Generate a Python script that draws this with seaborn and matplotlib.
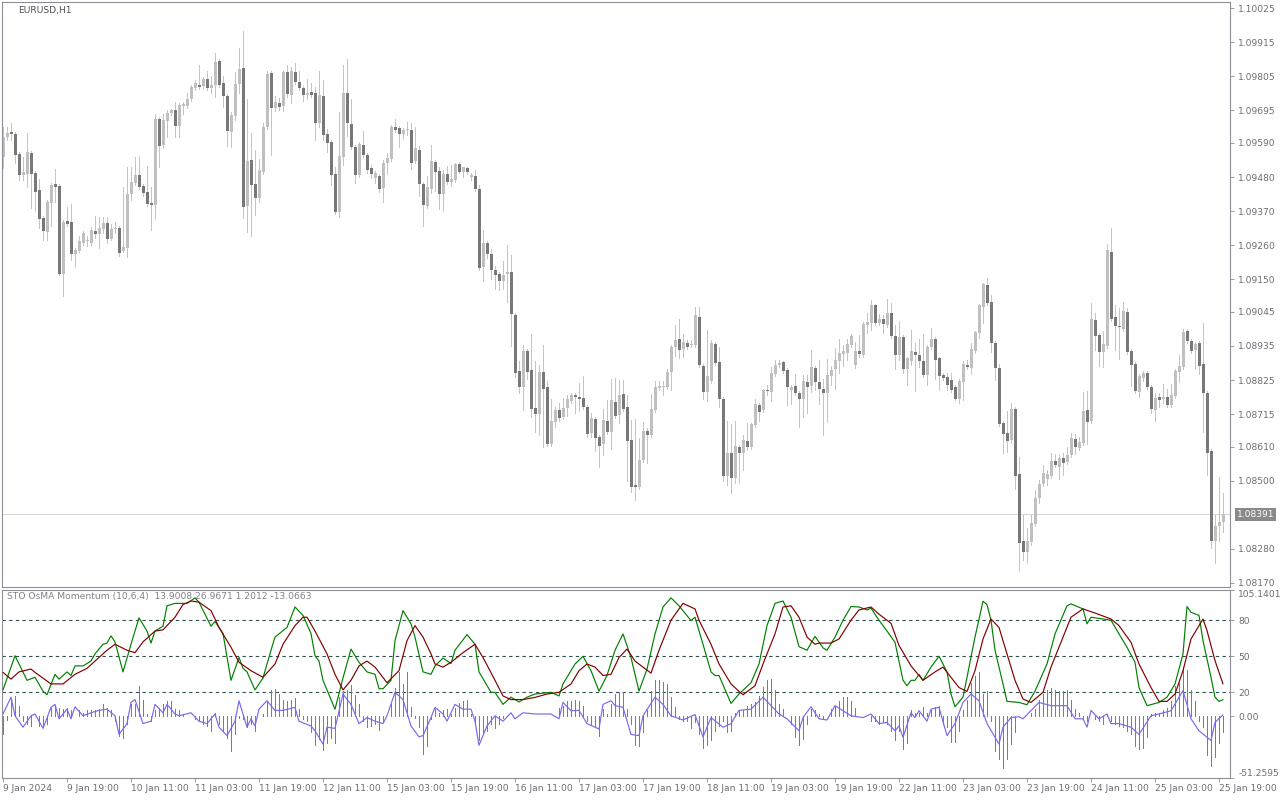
import numpy as np
import pandas as pd
import matplotlib
matplotlib.use("Agg")
import matplotlib.pyplot as plt
import seaborn as sns
from matplotlib.transforms import offset_copy

# ======================================================================
# EURUSD H1 candles, 9 Jan 2024 03:00 -> 25 Jan 2024 (one entry per bar)
# ======================================================================
open_ = [
    1.09545,1.09609,1.09625,1.09619,1.09554,1.09486,1.09490,1.09557,1.09493,1.09438,
    1.09348,1.09303,1.09396,1.09457,1.09451,1.09167,1.09338,1.09335,1.09232,1.09241,
    1.09267,1.09274,1.09267,1.09306,1.09296,1.09312,1.09332,1.09280,1.09312,1.09316,
    1.09241,1.09251,1.09425,1.09461,1.09486,1.09451,1.09432,1.09396,1.09390,1.09667,
    1.09583,1.09661,1.09686,1.09696,1.09645,1.09709,1.09709,1.09732,1.09767,1.09777,
    1.09774,1.09796,1.09767,1.09777,1.09854,1.09783,1.09741,1.09625,1.09677,1.09780,
    1.09832,1.09386,1.09535,1.09457,1.09412,1.09496,1.09641,1.09816,1.09703,1.09719,
    1.09709,1.09819,1.09745,1.09819,1.09786,1.09767,1.09745,1.09754,1.09751,1.09654,
    1.09741,1.09619,1.09593,1.09490,1.09367,1.09545,1.09751,1.09651,1.09577,1.09486,
    1.09583,1.09551,1.09509,1.09477,1.09483,1.09445,1.09525,1.09538,1.09641,1.09638,
    1.09619,1.09632,1.09632,1.09532,1.09567,1.09457,1.09386,1.09441,1.09528,1.09499,
    1.09425,1.09490,1.09464,1.09470,1.09522,1.09496,1.09509,1.09480,1.09483,1.09441,
    1.09190,1.09267,1.09232,1.09180,1.09167,1.09145,1.09167,1.09174,1.09035,1.08854,
    1.08803,1.08919,1.08857,1.08735,1.08716,1.08851,1.08803,1.08619,1.08690,1.08728,
    1.08706,1.08735,1.08757,1.08777,1.08770,1.08767,1.08738,1.08654,1.08699,1.08641,
    1.08619,1.08693,1.08657,1.08754,1.08712,1.08780,1.08738,1.08632,1.08486,1.08480,
    1.08567,1.08661,1.08648,1.08728,1.08799,1.08803,1.08803,1.08851,1.08932,1.08957,
    1.08925,1.08945,1.08938,1.08938,1.09028,1.08870,1.08786,1.08822,1.08941,1.08883,
    1.08764,1.08516,1.08590,1.08509,1.08609,1.08590,1.08628,1.08609,1.08680,1.08745,
    1.08728,1.08793,1.08786,1.08845,1.08874,1.08883,1.08857,1.08793,1.08806,1.08783,
    1.08764,1.08819,1.08806,1.08864,1.08819,1.08796,1.08783,1.08838,1.08861,1.08886,
    1.08909,1.08912,1.08938,1.08874,1.08919,1.08906,1.09003,1.09009,1.09067,1.09009,
    1.09022,1.09003,1.09041,1.08967,1.08906,1.08964,1.08861,1.08886,1.08916,1.08906,
    1.08886,1.08841,1.08932,1.08957,1.08896,1.08841,1.08835,1.08825,1.08803,1.08764,
    1.08819,1.08874,1.08864,1.08919,1.08977,1.09061,1.09132,1.09077,1.08945,1.08864,
    1.08686,1.08654,1.08632,1.08732,1.08522,1.08306,1.08270,1.08303,1.08361,1.08445,
    1.08490,1.08506,1.08516,1.08564,1.08545,1.08574,1.08561,1.08583,1.08635,1.08606,
    1.08622,1.08728,1.08693,1.09019,1.08970,1.08916,1.08935,1.09238,1.09028,1.08999,
    1.08990,1.09045,1.08919,1.08877,1.08786,1.08832,1.08848,1.08803,1.08728,1.08770,
    1.08764,1.08770,1.08745,1.08774,1.08851,1.08867,1.08983,1.08951,1.08922,1.08945,
    1.08877,1.08783,1.08596,1.08306,1.08354,1.08367]
high_ = [
    1.09641,1.09641,1.09654,1.09625,1.09561,1.09545,1.09622,1.09564,1.09499,1.09474,
    1.09354,1.09406,1.09461,1.09506,1.09457,1.09341,1.09383,1.09393,1.09251,1.09290,
    1.09306,1.09290,1.09319,1.09354,1.09351,1.09351,1.09351,1.09328,1.09335,1.09322,
    1.09448,1.09512,1.09512,1.09545,1.09548,1.09457,1.09516,1.09448,1.09683,1.09674,
    1.09683,1.09696,1.09699,1.09722,1.09719,1.09722,1.09751,1.09777,1.09793,1.09841,
    1.09803,1.09822,1.09806,1.09880,1.09861,1.09806,1.09748,1.09690,1.09819,1.09896,
    1.09951,1.09732,1.09622,1.09567,1.09538,1.09654,1.09822,1.09822,1.09741,1.09735,
    1.09825,1.09841,1.09835,1.09848,1.09822,1.09774,1.09796,1.09783,1.09770,1.09822,
    1.09793,1.09635,1.09599,1.09512,1.09690,1.09841,1.09861,1.09732,1.09583,1.09593,
    1.09628,1.09557,1.09519,1.09499,1.09490,1.09535,1.09557,1.09648,1.09667,1.09645,
    1.09638,1.09657,1.09654,1.09641,1.09580,1.09464,1.09483,1.09583,1.09535,1.09512,
    1.09503,1.09516,1.09519,1.09525,1.09528,1.09512,1.09512,1.09493,1.09503,1.09454,
    1.09309,1.09274,1.09248,1.09193,1.09174,1.09209,1.09261,1.09228,1.09041,1.08886,
    1.08938,1.08925,1.08974,1.08886,1.08874,1.08938,1.08822,1.08764,1.08738,1.08751,
    1.08767,1.08777,1.08783,1.08783,1.08816,1.08838,1.08745,1.08719,1.08706,1.08648,
    1.08732,1.08761,1.08828,1.08832,1.08825,1.08825,1.08777,1.08696,1.08699,1.08638,
    1.08690,1.08670,1.08780,1.08822,1.08822,1.08822,1.08861,1.08938,1.09003,1.09022,
    1.08974,1.08954,1.08954,1.09061,1.09061,1.08877,1.08986,1.08954,1.08948,1.08932,
    1.08770,1.08693,1.08683,1.08693,1.08616,1.08648,1.08686,1.08686,1.08764,1.08751,
    1.08796,1.08809,1.08867,1.08890,1.08890,1.08886,1.08864,1.08809,1.08845,1.08790,
    1.08841,1.08841,1.08922,1.08870,1.08890,1.08828,1.08893,1.08870,1.08928,1.08957,
    1.08938,1.08957,1.08974,1.08948,1.08970,1.09012,1.09041,1.09083,1.09070,1.09038,
    1.09035,1.09086,1.09074,1.09003,1.09016,1.08970,1.08899,1.08986,1.08945,1.08957,
    1.08974,1.08938,1.08993,1.08964,1.08899,1.08848,1.08848,1.08848,1.08809,1.08828,
    1.08886,1.08890,1.08945,1.08983,1.09070,1.09138,1.09154,1.09099,1.08951,1.08877,
    1.08693,1.08725,1.08751,1.08738,1.08577,1.08390,1.08348,1.08390,1.08470,1.08503,
    1.08551,1.08535,1.08590,1.08586,1.08583,1.08590,1.08609,1.08654,1.08651,1.08641,
    1.08786,1.08790,1.09074,1.09041,1.08977,1.08983,1.09264,1.09316,1.09067,1.09057,
    1.09077,1.09057,1.08925,1.08883,1.08845,1.08854,1.08854,1.08809,1.08783,1.08783,
    1.08812,1.08796,1.08812,1.08861,1.08906,1.08990,1.08990,1.08957,1.08948,1.08951,
    1.09009,1.08790,1.08603,1.08390,1.08512,1.08461]
low_ = [
    1.09509,1.09599,1.09599,1.09525,1.09470,1.09470,1.09448,1.09380,1.09370,1.09316,
    1.09277,1.09277,1.09322,1.09399,1.09164,1.09096,1.09322,1.09212,1.09190,1.09238,
    1.09261,1.09257,1.09261,1.09283,1.09251,1.09299,1.09267,1.09277,1.09299,1.09225,
    1.09238,1.09222,1.09406,1.09454,1.09441,1.09419,1.09386,1.09309,1.09345,1.09512,
    1.09574,1.09609,1.09680,1.09609,1.09609,1.09683,1.09703,1.09725,1.09761,1.09764,
    1.09767,1.09761,1.09751,1.09738,1.09770,1.09706,1.09580,1.09577,1.09664,1.09751,
    1.09348,1.09303,1.09290,1.09357,1.09399,1.09490,1.09635,1.09551,1.09693,1.09696,
    1.09693,1.09738,1.09719,1.09780,1.09761,1.09725,1.09732,1.09738,1.09599,1.09641,
    1.09599,1.09561,1.09454,1.09361,1.09351,1.09519,1.09612,1.09570,1.09461,1.09480,
    1.09545,1.09493,1.09477,1.09461,1.09432,1.09399,1.09490,1.09532,1.09625,1.09577,
    1.09603,1.09616,1.09506,1.09525,1.09419,1.09322,1.09380,1.09428,1.09435,1.09377,
    1.09370,1.09457,1.09451,1.09464,1.09493,1.09480,1.09490,1.09470,1.09435,1.09180,
    1.09145,1.09219,1.09151,1.09119,1.09116,1.09119,1.09077,1.08935,1.08835,1.08783,
    1.08728,1.08828,1.08706,1.08657,1.08648,1.08609,1.08612,1.08612,1.08674,1.08693,
    1.08699,1.08709,1.08751,1.08719,1.08725,1.08732,1.08641,1.08641,1.08596,1.08545,
    1.08583,1.08651,1.08603,1.08703,1.08686,1.08725,1.08499,1.08464,1.08438,1.08474,
    1.08561,1.08557,1.08641,1.08722,1.08793,1.08777,1.08796,1.08793,1.08903,1.08896,
    1.08899,1.08925,1.08932,1.08932,1.08867,1.08764,1.08757,1.08816,1.08874,1.08738,
    1.08499,1.08486,1.08461,1.08493,1.08493,1.08535,1.08599,1.08603,1.08674,1.08693,
    1.08722,1.08777,1.08757,1.08838,1.08867,1.08848,1.08745,1.08748,1.08777,1.08674,
    1.08706,1.08719,1.08786,1.08793,1.08748,1.08648,1.08690,1.08809,1.08796,1.08848,
    1.08870,1.08890,1.08932,1.08864,1.08899,1.08899,1.08977,1.08986,1.09003,1.09003,
    1.08977,1.08996,1.08961,1.08861,1.08890,1.08848,1.08809,1.08874,1.08790,1.08867,
    1.08835,1.08809,1.08925,1.08828,1.08793,1.08825,1.08793,1.08786,1.08761,1.08751,
    1.08761,1.08861,1.08845,1.08912,1.08961,1.09009,1.09067,1.08916,1.08825,1.08677,
    1.08590,1.08593,1.08622,1.08474,1.08209,1.08245,1.08235,1.08293,1.08354,1.08428,
    1.08483,1.08486,1.08509,1.08545,1.08506,1.08519,1.08554,1.08577,1.08586,1.08599,
    1.08616,1.08619,1.08686,1.08922,1.08870,1.08867,1.08928,1.09016,1.08922,1.08893,
    1.08983,1.08909,1.08806,1.08783,1.08770,1.08822,1.08796,1.08719,1.08693,1.08738,
    1.08751,1.08738,1.08738,1.08767,1.08819,1.08861,1.08945,1.08912,1.08861,1.08845,
    1.08657,1.08519,1.08283,1.08235,1.08306,1.08335]
close_ = [
    1.09609,1.09622,1.09619,1.09551,1.09486,1.09496,1.09561,1.09490,1.09432,1.09345,
    1.09306,1.09399,1.09454,1.09448,1.09167,1.09335,1.09328,1.09232,1.09245,1.09274,
    1.09299,1.09277,1.09309,1.09296,1.09316,1.09332,1.09280,1.09312,1.09316,1.09235,
    1.09254,1.09425,1.09464,1.09486,1.09448,1.09428,1.09393,1.09390,1.09667,1.09580,
    1.09664,1.09686,1.09696,1.09645,1.09712,1.09716,1.09732,1.09770,1.09783,1.09770,
    1.09796,1.09767,1.09777,1.09851,1.09777,1.09741,1.09628,1.09680,1.09780,1.09828,
    1.09383,1.09532,1.09454,1.09412,1.09503,1.09641,1.09812,1.09703,1.09722,1.09706,
    1.09819,1.09748,1.09822,1.09786,1.09767,1.09745,1.09751,1.09745,1.09654,1.09745,
    1.09616,1.09590,1.09486,1.09367,1.09548,1.09751,1.09654,1.09577,1.09486,1.09586,
    1.09551,1.09503,1.09490,1.09493,1.09441,1.09525,1.09541,1.09641,1.09632,1.09619,
    1.09632,1.09635,1.09525,1.09574,1.09457,1.09390,1.09448,1.09532,1.09496,1.09425,
    1.09490,1.09464,1.09474,1.09522,1.09496,1.09512,1.09496,1.09486,1.09441,1.09186,
    1.09267,1.09232,1.09180,1.09164,1.09145,1.09164,1.09174,1.09038,1.08848,1.08803,
    1.08919,1.08851,1.08732,1.08716,1.08851,1.08796,1.08619,1.08693,1.08728,1.08703,
    1.08735,1.08764,1.08777,1.08770,1.08764,1.08738,1.08651,1.08703,1.08638,1.08612,
    1.08696,1.08657,1.08761,1.08709,1.08777,1.08732,1.08628,1.08480,1.08480,1.08567,
    1.08661,1.08648,1.08732,1.08803,1.08806,1.08806,1.08851,1.08932,1.08954,1.08922,
    1.08948,1.08932,1.08941,1.09035,1.08874,1.08786,1.08838,1.08945,1.08880,1.08764,
    1.08516,1.08590,1.08509,1.08612,1.08590,1.08632,1.08609,1.08683,1.08748,1.08722,
    1.08793,1.08790,1.08848,1.08874,1.08880,1.08854,1.08803,1.08803,1.08783,1.08764,
    1.08822,1.08803,1.08867,1.08819,1.08796,1.08783,1.08841,1.08857,1.08890,1.08912,
    1.08919,1.08941,1.08967,1.08919,1.08909,1.09006,1.09012,1.09067,1.09009,1.09022,
    1.09006,1.09041,1.08967,1.08906,1.08964,1.08861,1.08896,1.08919,1.08906,1.08886,
    1.08841,1.08932,1.08957,1.08890,1.08838,1.08832,1.08809,1.08793,1.08764,1.08822,
    1.08877,1.08867,1.08925,1.08980,1.09067,1.09135,1.09074,1.08945,1.08864,1.08683,
    1.08651,1.08628,1.08732,1.08516,1.08299,1.08270,1.08306,1.08364,1.08445,1.08490,
    1.08525,1.08522,1.08564,1.08551,1.08574,1.08557,1.08583,1.08638,1.08609,1.08625,
    1.08725,1.08690,1.09022,1.08967,1.08916,1.08941,1.09245,1.09022,1.08999,1.08996,
    1.09048,1.08916,1.08874,1.08790,1.08838,1.08848,1.08803,1.08732,1.08767,1.08761,
    1.08770,1.08745,1.08777,1.08854,1.08870,1.08980,1.08951,1.08919,1.08941,1.08870,
    1.08783,1.08590,1.08306,1.08354,1.08367,1.08391]

bid_price = 1.08391
price_ticks = [1.10025, 1.09915, 1.09805, 1.09695, 1.09590, 1.09480, 1.09370,
               1.09260, 1.09150, 1.09045, 1.08935, 1.08825, 1.08715, 1.08610,
               1.08500, 1.08280, 1.08170]
price_lim = (1.08157, 1.10045)

# time labels, one every 16 bars starting at the first bar
date_labels = ['9 Jan 2024', '9 Jan 19:00', '10 Jan 11:00', '11 Jan 03:00',
               '11 Jan 19:00', '12 Jan 11:00', '15 Jan 03:00', '15 Jan 19:00',
               '16 Jan 11:00', '17 Jan 03:00', '17 Jan 19:00', '18 Jan 11:00',
               '19 Jan 03:00', '19 Jan 19:00', '22 Jan 11:00', '23 Jan 03:00',
               '23 Jan 19:00', '24 Jan 11:00', '25 Jan 03:00', '25 Jan 19:00']

# ======================================================================
# STO OsMA Momentum (10,6,4) - line vertices as (bar, value)
# ======================================================================
sto_main = [
    (0,22),(3,50.5),(6,30),(8,32.5),(10,21),(11,18),(13,35),(14,31),(16,37),(17,34),
    (18,42),(20,42),(22,46),(23,52),(25,60),(26,61),(27,67),(28,62),(30,37),(32,60),
    (34,82),(36,71),(37,61),(38,71),(40,75),(41,92),(43,94),(46,94),(48,98.6),(49,95),
    (52,75),(53,79),(55,69),(57,30),(59,49),(60,40),(61,37),(63,22),(65,32),(67,55),
    (68,66),(71,74),(73,91),(75,84),(77,69),(78,50.5),(79,46),(80,30),(83,6),(85,32),
    (87,56),(89,45),(91,37),(93,35),(94,23),(95,23),(97,30),(98,63),(100,88),(102,77),
    (103,66),(105,37),(107,35),(108,42),(110,48.5),(112,44),(113,55),(116,68),(118,60),
    (119,37),(122,20),(123,20),(125,10),(127,16),(129,12),(131,16),(133,18.6),(137,20),
    (139,17),(140,27),(143,43.6),(145,50),(147,38),(149,21),(151,34),(153,55),(155,68.6),
    (157,49),(159,21),(161,39.4),(163,68.6),(165,91),(167,98.6),(169,92),(172,79.7),
    (173,82.5),(175,60),(177,37),(178,34),(179,34),(182,10.8),(184,18.6),(187,28),
    (189,43.6),(191,75.5),(193,94),(195,96),(197,82.5),(199,58),(201,55),(203,66.6),
    (205,57),(206,55),(208,66),(210,80),(212,91.4),(214,91),(216,88.6),(217,90),(219,80),
    (221,71),(223,61.6),(224,46),(225,30),(226,25.5),(227,30),(228,30),(229,35),(230,30),
    (232,41),(234,50),(236,37),(237,18.6),(238,8),(240,16),(241,32.5),(243,66),(245,95.8),
    (246,93),(247,80),(248,55),(250,27),(251,12.5),(254,11.6),(256,9.7),(258,21),
    (261,43.6),(263,68.6),(266,92),(267,93.6),(270,89.4),(271,77),(272,82.5),(275,81),
    (277,80),(279,68.6),(281,57.5),(283,45),(284,24),(286,8.9),(289,11.6),(291,16),
    (293,27),(295,52),(296,91.4),(297,86.6),(299,84),(300,63),(302,32.5),(303,16),
    (304,12.5),(305,13.9008)]
sto_signal = [
    (0,36.6),(2,31),(4,37),(7,39.4),(8,36.6),(12,27),(15,27),(18,35),(21,40),(23,46),
    (26,55),(28,60),(31,55),(33,53),(35,62),(38,71),(40,72),(43,82.5),(45,93),(47,96),
    (49,95),(52,88),(54,74),(57,57.5),(59,45),(62,38),(65,32.5),(68,43.6),(70,60),
    (73,75.5),(75,82.5),(76,82.5),(78,71),(81,52),(83,35),(85,22),(87,30),(89,42),
    (91,46),(93,41),(96,28),(99,38),(101,63),(103,75.5),(105,66),(107,52),(108,43.6),
    (110,41),(112,45),(115,53),(118,60),(120,49),(123,30),(125,17),(127,14),(130,14),
    (133,15.8),(136,18.6),(139,20),(142,27),(144,38),(146,43.6),(148,41),(150,34),
    (152,35),(154,49),(156,56),(158,46),(162,36),(164,55),(167,80),(170,94),(173,89.4),
    (174,80),(177,60),(179,43.6),(182,27),(184,20.8),(185,18),(188,25.5),(190,43.6),
    (193,68.6),(195,91),(197,92),(199,82.5),(201,66),(203,60),(204,61),(207,61),
    (209,64.4),(212,80),(214,88.6),(217,91),(219,85),(222,77.5),(224,59),(227,42),
    (230,30),(233,37),(235,41),(237,32.5),(239,24),(241,20.8),(243,38),(245,64.4),
    (247,81),(249,74),(251,52),(253,30),(255,14.4),(257,11.6),(260,20),(262,41),(265,66),
    (267,82.5),(270,89.4),(273,86),(277,81),(279,75.5),(282,61.6),(284,43.6),(287,24),
    (289,12.5),(291,12.5),(293,18.6),(295,38),(297,64.4),(300,81),(301,71.4),(303,46.4),
    (305,26.9671)]
momentum = [
    (0,2),(2,16),(3,0.5),(5,-9),(7,0.5),(8,2),(10,-10),(12,7.5),(13,10),(14,-2),(16,6),
    (17,-2),(18,8),(20,0.5),(22,3),(24,5),(26,6),(28,0.5),(29,-15),(31,-6),(32,11.6),
    (33,14),(35,-6),(37,-4),(38,10),(40,3),(41,10),(43,2),(44,0.5),(47,3),(49,-4),(51,-6),
    (53,2),(54,-9),(56,-16),(58,-4),(59,13),(61,-9),(62,-2),(63,-8),(64,6),(66,13),(68,5),
    (70,5),(73,7.5),(74,-4),(77,-8),(78,-12),(80,-23),(81,-9),(83,-10),(85,18.6),(87,10),
    (89,-6),(91,-1),(93,-4),(95,-6),(96,0.5),(98,20),(100,14),(102,-8),(104,-17),(105,-16),
    (107,-1),(108,7.5),(110,2),(111,-4),(113,10),(115,6),(117,6),(118,-4),(119,-24),
    (121,-8),(123,0.5),(125,-4),(127,3),(128,-2),(130,3),(133,2),(137,2),(139,-2),
    (140,11.6),(142,4.7),(144,5),(146,-6),(149,-10.5),(150,10),(152,13),(153,9),(155,7.5),
    (157,-15),(159,-16),(160,0.5),(163,16),(165,10),(167,0.5),(170,-3),(173,1.5),(175,-17),
    (177,-1),(180,-9),(182,-6),(184,5),(187,6),(190,16),(194,2),(196,-2),(199,-12),
    (200,-1),(202,8),(204,-2),(206,-3),(208,8.9),(210,4.7),(212,0.5),(215,-1),(217,2),
    (219,-6),(221,-5),(223,-12),(224,-8),(225,-17.5),(227,3),(228,-1),(229,4.7),(231,-4),
    (232,6),(234,7.5),(236,-16),(238,-6),(240,11.6),(242,18.6),(244,13),(246,-6),(249,-23),
    (250,-9),(252,-1),(254,-0.3),(255,-2),(259,11.6),(262,8.9),(266,8.9),(268,-2),(270,-2),
    (271,-9),(272,5),(274,-2),(276,2),(277,-6),(279,-6),(282,-9),(284,-15),(287,0.5),
    (289,2),(292,4.7),(295,21.4),(297,-2),(299,-12),(302,-20),(303,-5),(305,1.2012)]
# OsMA histogram, one value per bar
osma = [
    -15,-3,14,17,9,-4,-6,-8,0,-8,
    -9,-6,7,9,7,6,7,5,0,5,
    3,5,5,5,6,10,7,5,-4,-16,
    -18,-6,10,10,25,14,2,-4,5,7,
    10,13,13,6,5,2,0,0,-2,-4,
    -6,-8,-12,3,-6,-12,-18,-29,-15,-1,
    -2,-9,-6,-12,0,2,13,22,23,19,
    14,13,14,15,6,-2,-4,-13,-24,-19,
    -28,-22,-18,-22,16,21,22,26,18,10,
    -4,-9,-8,-6,-11,-4,0,10,24,37,
    27,37,8,-1,-9,-31,-25,-2,6,3,
    5,6,2,7,11,13,13.6,2,-6,-20,
    -13,-12,-6,-10,-6,-1,0,0,0,0,
    0,0,0,0,0,0,0,0,0,7,
    9,13,13,13.6,13,9,-4,-6,-8,-16,
    6,2,10,18.6,20,20,6,-6,-24,-25,
    -13,5,21,30,30,29,27,16,7.5,-2,
    -4,-4,-10,-5,-15,-26,-24,-20,-12,-8,
    -4,-13,-12,3,5,5,9,10,11.6,17,
    24.7,30,31,22,10,6,0,-6,-17.5,-24,
    -19,-6,6,5,2,-1,0,6,9,13,
    16,16,13,7,0,0,0,-4,-4,-6,
    -5,-6,-12,-20,-12,-27,-22.5,5,3,3,
    7.5,3,5,7.5,9,-6,-9,-21,-21,-12,
    5,14,28,34,37,19,21,-4,-28.6,-35.5,
    -43,-35.5,-23,-13,0,0,0,3,6,14,
    18.6,22,23.6,22,21,21,22,14,6,3,
    -2,-4,0.5,-2,-4,-6,2,-4,-6,-8,
    -9,-12,-15,-24.4,-27,-26,-17.5,2,3,3,
    5,7,13,25.5,28,41,38.6,22,13,-4,
    -9,-32.5,-41,-34,-22,-13.0663]
osc_levels = [80, 50, 20]
osc_ticks = [105.1401, 80, 50, 20, 0.0, -51.2595]
osc_ticklabels = ['105.1401', '80', '50', '20', '0.00', '-51.2595']
osc_title = 'STO OsMA Momentum (10,6,4)  13.9008 26.9671 1.2012 -13.0663'

# ----------------------------------------------------------------------
candles = pd.DataFrame({'open': open_, 'high': high_, 'low': low_, 'close': close_})
candles['bar'] = np.arange(len(candles))
assert len(candles) == len(osma) == 306

sns.set_theme(style='white')
plt.rcParams['font.family'] = ['DejaVu Sans']

W, H = 1280, 800
fig = plt.figure(figsize=(W / 100, H / 100), dpi=100)
ax = fig.add_axes([2 / W, 1 - 587 / H, 1228 / W, 585 / H])
ax2 = fig.add_axes([2 / W, 1 - 778 / H, 1228 / W, 188 / H])

frame_col = '#8e8e96'
label_col = '#6c6c74'
fs = 6.6

# --- candles (1px wicks, 3px bodies, no antialiasing like the terminal)
up = candles['close'] >= candles['open']
body_lo = candles[['open', 'close']].min(axis=1)
body_h = (candles['close'] - candles['open']).abs().clip(lower=0.00003)
ax.vlines(candles['bar'], candles['low'], candles['high'], color='#c4c4c4',
          lw=0.72, zorder=1, antialiased=False)
ax.bar(candles['bar'][up], body_h[up], bottom=body_lo[up], width=0.75,
       color='#c0c0c0', linewidth=0, zorder=2, antialiased=False)
ax.bar(candles['bar'][~up], body_h[~up], bottom=body_lo[~up], width=0.75,
       color='#787878', linewidth=0, zorder=2, antialiased=False)
ax.axhline(bid_price, color='#d6d6d6', lw=0.72, zorder=0, antialiased=False)

xlim = (-0.25, 306.75)
ax.set_xlim(*xlim)
ax.set_ylim(*price_lim)
ax.set_xticks([])
ax.yaxis.tick_right()
ax.set_yticks(price_ticks)
ax.set_yticklabels(['%.5f' % p for p in price_ticks])
ax.tick_params(axis='y', which='both', right=True, length=3, width=0.6,
               color=frame_col, labelsize=fs, labelcolor=label_col, pad=3)
bid_tr = offset_copy(ax.get_yaxis_transform(), fig=fig, x=5, y=0, units='points')
ax.text(1.0, bid_price, '1.08391', transform=bid_tr,
        ha='left', va='center', fontsize=fs, color='white',
        bbox=dict(boxstyle='square,pad=0.22', fc='#8a8a8a', ec='none'))
fig.text(18 / W, 1 - 10 / H, 'EURUSD,H1', ha='left', va='center', fontsize=fs,
         color='#505058')

# --- indicator
x_all = np.arange(len(osma))
ax2.vlines(x_all, 0, osma, color='#5a8c8c', lw=0.72, zorder=1, antialiased=False)
for lv in osc_levels:
    ax2.axhline(lv, color='#2f4f4f', lw=0.8, ls=(0, (3, 3)), zorder=0)
lines = [(momentum, '#7b68ee'), (sto_main, '#008000'), (sto_signal, '#800000')]
for pts, col in lines:
    df = pd.DataFrame(pts, columns=['bar', 'value'])
    sns.lineplot(data=df, x='bar', y='value', color=col, lw=0.85, ax=ax2,
                 estimator=None, zorder=3)
ax2.set_xlim(*xlim)
ax2.set_ylim(-51.2595, 105.1401)
ax2.set_xlabel('')
ax2.set_ylabel('')
ax2.yaxis.tick_right()
ax2.set_yticks(osc_ticks)
ax2.set_yticklabels(osc_ticklabels)
ax2.tick_params(axis='y', which='both', right=True, length=3, width=0.6,
                color=frame_col, labelsize=fs, labelcolor=label_col, pad=3)
ylabs = ax2.get_yticklabels()
ylabs[0].set_va('top')
ylabs[-1].set_va('bottom')
ax2.set_xticks(np.arange(0, len(osma), 16)[:len(date_labels)])
ax2.set_xticklabels(date_labels, ha='left')
ax2.tick_params(axis='x', which='both', bottom=True, length=3, width=0.6,
                color=frame_col, labelsize=fs, labelcolor=label_col, pad=1)
fig.text(7 / W, 1 - 597 / H, osc_title, ha='left', va='center', fontsize=fs,
         color='#808088')

for a in (ax, ax2):
    for s in a.spines.values():
        s.set_color(frame_col)
        s.set_linewidth(0.8)
    a.grid(False)

fig.savefig('out.png', dpi=100)
